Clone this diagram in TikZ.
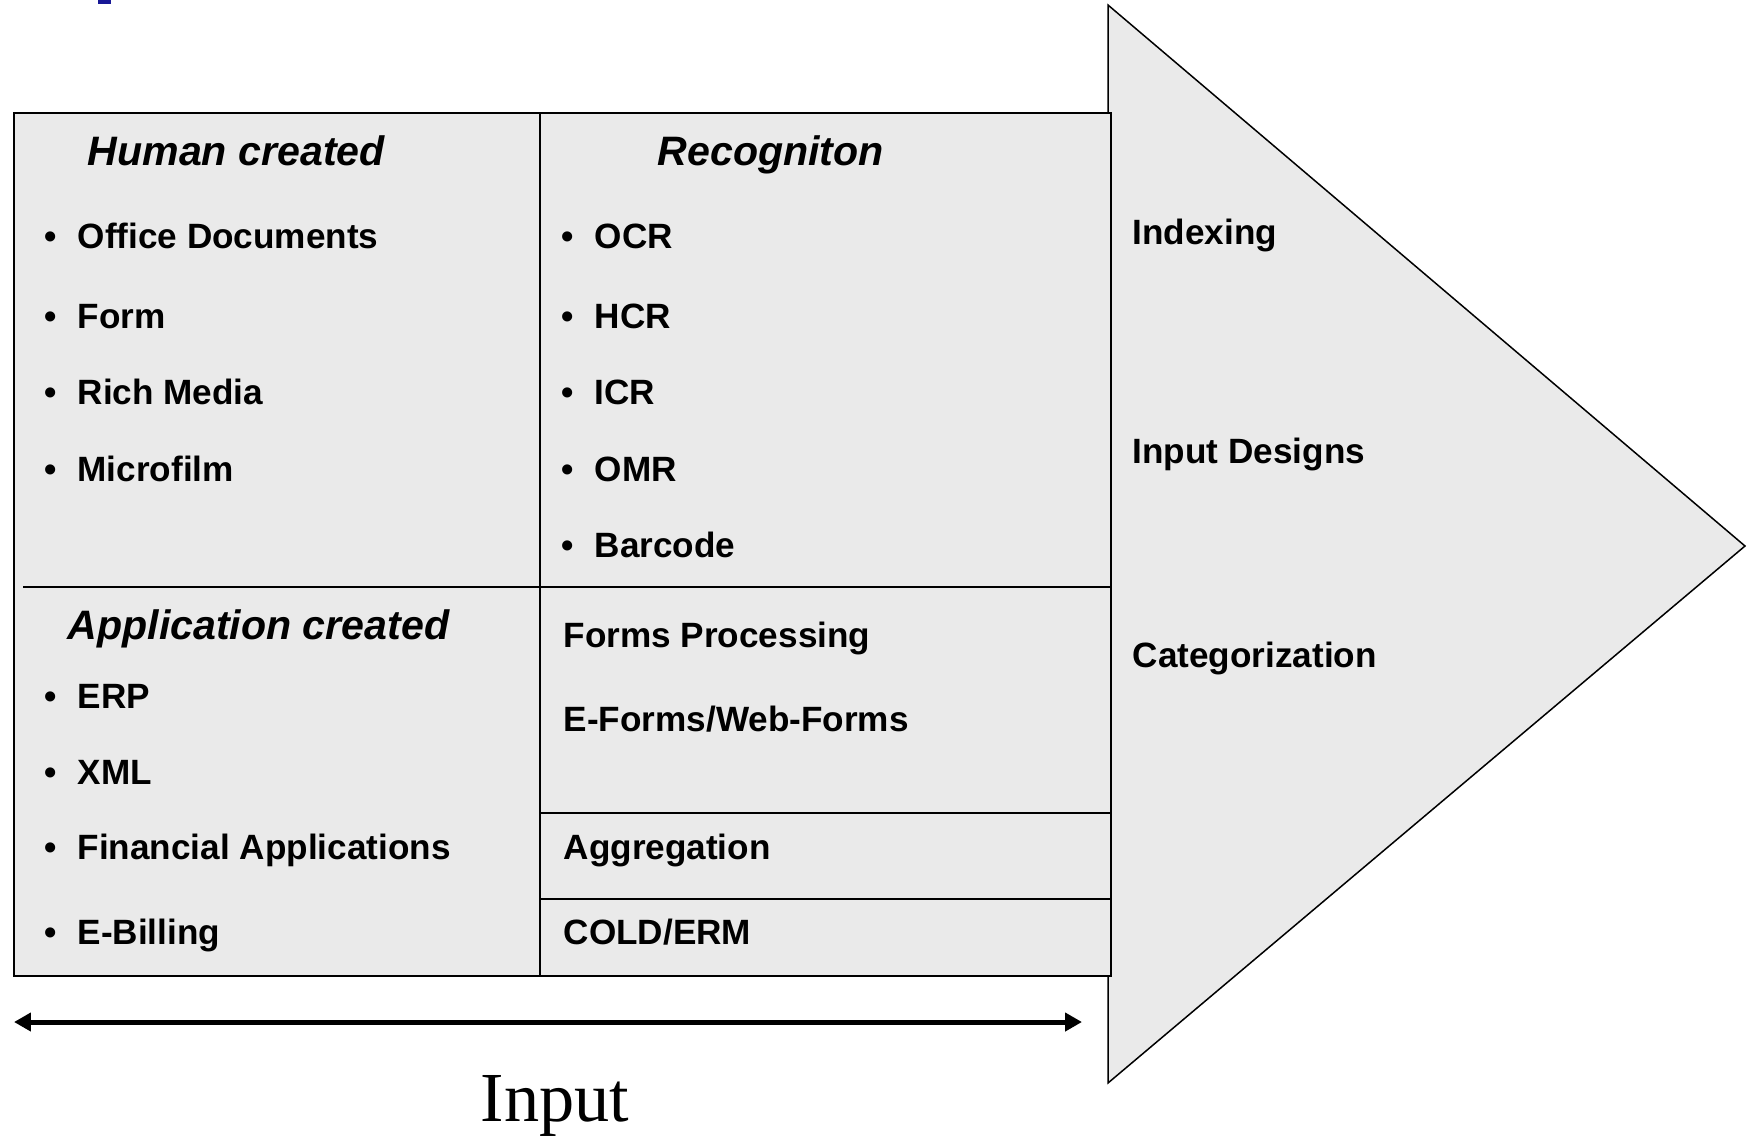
\documentclass[tikz,border=0pt]{standalone}
\usepackage{fontspec}
\setmainfont{Liberation Sans}
\newfontfamily\inputfont{Liberation Serif}
\usepackage{tikz}
\usetikzlibrary{arrows.meta}
\definecolor{panel}{RGB}{234,234,234}
\definecolor{titleblue}{RGB}{24,24,150}
\tikzset{
    item/.style={anchor=base west, inner sep=0pt, font=\fontsize{10}{12}\selectfont\bfseries},
    head/.style={anchor=base west, inner sep=0pt, font=\fontsize{11.7}{14}\selectfont\bfseries\itshape},
    cell/.style={draw, line width=0.25mm},
    span/.style={line width=0.5mm, {Triangle[length=1.7mm,width=1.8mm]}-{Triangle[length=1.7mm,width=1.8mm]}}
}
\newcommand{\bulletitem}[4]{
    \node[item] (#1dot) at (#2,#3) {\textbullet};
    \node[item] (#1) at (#2+33,#3) {#4};
}

\begin{document}
\begin{tikzpicture}[x=0.1mm, y=-0.1mm]
        \useasboundingbox (0,0) rectangle (1747,1135);
        \fill[titleblue] (98,0) rectangle (111,3.5);
        \draw[fill=panel, line width=0.15mm] (1108,5) -- (1745,546) -- (1108,1083) -- cycle;
        \draw[cell, fill=panel] (14,113) rectangle (1111,976);
        \draw[cell] (540,113) -- (540,976);
        \draw[cell] (23,587) -- (540,587);
        \draw[cell] (540,587) -- (1111,587);
        \draw[cell] (540,813) -- (1111,813);
        \draw[cell] (540,899) -- (1111,899);
        \node[head] (human) at (87,165) {Human created};
        \node[head] (recog) at (657,165) {Recogniton};
        \node[head] (appl) at (67,639) {Application created};
        \bulletitem{office}{44}{248}{Office Documents}
        \bulletitem{form}{44}{328}{Form}
        \bulletitem{rich}{44}{404}{Rich Media}
        \bulletitem{micro}{44}{481}{Microfilm}
        \bulletitem{ocr}{561}{248}{OCR}
        \bulletitem{hcr}{561}{328}{HCR}
        \bulletitem{icr}{561}{404}{ICR}
        \bulletitem{omr}{561}{481}{OMR}
        \bulletitem{barcode}{561}{557}{Barcode}
        \bulletitem{erp}{44}{708}{ERP}
        \bulletitem{xml}{44}{784}{XML}
        \bulletitem{fin}{44}{859}{Financial Applications}
        \bulletitem{bill}{44}{944}{E-Billing}
        \node[item] (forms) at (563,647) {Forms Processing};
        \node[item] (eforms) at (563,731) {E-Forms/Web-Forms};
        \node[item] (aggr) at (563,859) {Aggregation};
        \node[item] (cold) at (563,944) {COLD/ERM};
        \node[item] (index) at (1132,244) {Indexing};
        \node[item] (design) at (1132,463) {Input Designs};
        \node[item] (categ) at (1132,667) {Categorization};
        \coordinate (inleft) at (14,1022);
        \coordinate (inright) at (1082,1022);
        \draw[span] (inleft) -- (inright);
        \node[anchor=base, inner sep=0pt, font=\inputfont\fontsize{20}{24}\selectfont] (input) at (555,1121) {Input};
    \end{tikzpicture}
\end{document}
